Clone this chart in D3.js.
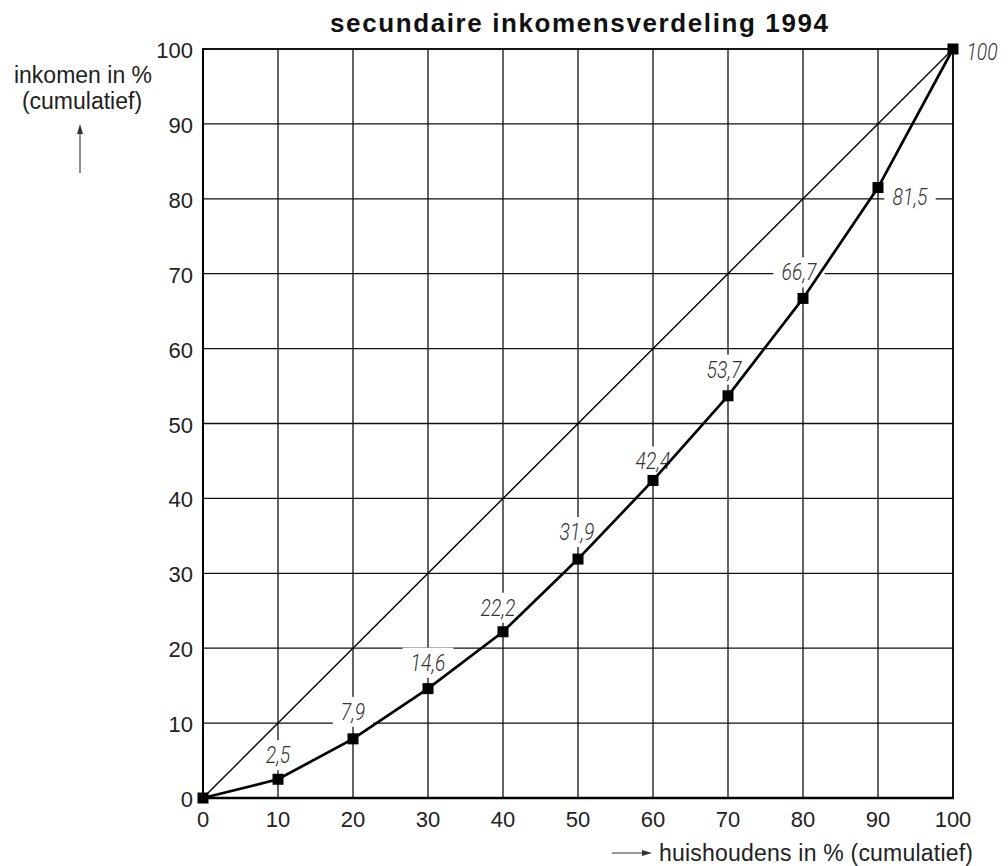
<!DOCTYPE html>
<html>
<head>
<meta charset="utf-8">
<script src="https://cdn.jsdelivr.net/npm/d3@7"></script>
<style>
  body { margin: 0; background: #fff; }
  text { font-family: "Liberation Sans", Arial, sans-serif; }
</style>
</head>
<body>
<div id="chart"></div>
<script>
// chart data
const households = [0, 10, 20, 30, 40, 50, 60, 70, 80, 90, 100]
const income = [0, 2.5, 7.9, 14.6, 22.2, 31.9, 42.4, 53.7, 66.7, 81.5, 100]
const valueLabels = ["", "2,5", "7,9", "14,6", "22,2", "31,9", "42,4", "53,7", "66,7", "81,5", "100"]
const equality = [0, 100]
const ticks = [0, 10, 20, 30, 40, 50, 60, 70, 80, 90, 100]
const title = "secundaire inkomensverdeling 1994"

const width = 1008
const height = 866
const plotLeft = 203, plotRight = 953, plotTop = 49, plotBottom = 798

const svg = d3.select('#chart').append('svg')
  .attr('width', width)
  .attr('height', height)

const xScale = d3.scaleLinear().domain([0, 100]).range([plotLeft, plotRight])
const yScale = d3.scaleLinear().domain([0, 100]).range([plotBottom, plotTop])

// grid
svg.append('g').selectAll('line').data(ticks).enter().append('line')
  .attr('x1', d => xScale(d)).attr('x2', d => xScale(d))
  .attr('y1', plotTop).attr('y2', plotBottom)
  .attr('stroke', '#111').attr('stroke-width', 1.3)
svg.append('g').selectAll('line').data(ticks).enter().append('line')
  .attr('x1', plotLeft).attr('x2', plotRight)
  .attr('y1', d => yScale(d)).attr('y2', d => yScale(d))
  .attr('stroke', '#111').attr('stroke-width', 1.3)

// frame: thicker left and bottom
svg.append('line').attr('x1', plotLeft).attr('x2', plotLeft).attr('y1', plotTop - 1).attr('y2', plotBottom + 1)
  .attr('stroke', '#000').attr('stroke-width', 2)
svg.append('line').attr('x1', plotLeft - 1).attr('x2', plotRight + 1).attr('y1', plotBottom).attr('y2', plotBottom)
  .attr('stroke', '#000').attr('stroke-width', 2.4)
svg.append('line').attr('x1', plotLeft).attr('x2', plotRight).attr('y1', plotTop).attr('y2', plotTop)
  .attr('stroke', '#000').attr('stroke-width', 1.6)
svg.append('line').attr('x1', plotRight).attr('x2', plotRight).attr('y1', plotTop).attr('y2', plotBottom)
  .attr('stroke', '#000').attr('stroke-width', 1.6)

// value labels with white boxes that cut the grid
const labelOffsets = [null, [0, -24], [0, -27], [0, -26], [-5, -24], [-1, -27], [0, -19], [-4, -26], [-4, -26], [32, 9], [29, 3]]
const labelG = svg.append('g')
households.forEach((h, i) => {
  if (!valueLabels[i]) return
  const off = labelOffsets[i]
  const cx = xScale(h) + off[0]
  const cy = yScale(income[i]) + off[1]
  const g = labelG.append('g')
  const t = g.append('text')
    .attr('transform', 'translate(' + cx + ',' + (cy + 8) + ') scale(0.84,1)')
    .attr('text-anchor', 'middle')
    .style('font-family', 'Roboto, "Liberation Sans Narrow", sans-serif')
    .style('font-style', 'italic')
    .style('font-weight', '300')
    .style('font-size', '23px')
    .attr('fill', '#333')
    .text(valueLabels[i])
  if (i < households.length - 1) {
    const w = t.node().getBBox().width * 0.84
    g.insert('rect', 'text')
      .attr('x', cx - w / 2 - 8).attr('y', cy - 15)
      .attr('width', w + 16).attr('height', 30)
      .attr('fill', '#fff')
  }
})

// equality diagonal
svg.append('line')
  .attr('x1', xScale(equality[0])).attr('y1', yScale(equality[0]))
  .attr('x2', xScale(equality[1])).attr('y2', yScale(equality[1]))
  .attr('stroke', '#000').attr('stroke-width', 1.4)

// lorenz curve
const line = d3.line()
  .x((d, i) => xScale(households[i]))
  .y(d => yScale(d))
svg.append('path').datum(income)
  .attr('d', line)
  .attr('fill', 'none')
  .attr('stroke', '#000')
  .attr('stroke-width', 2.7)

svg.append('g').selectAll('rect').data(income).enter().append('rect')
  .attr('x', (d, i) => xScale(households[i]) - 5.5)
  .attr('y', d => yScale(d) - 5.5)
  .attr('width', 11).attr('height', 11)
  .attr('fill', '#000')

// tick labels
svg.append('g').selectAll('text').data(ticks).enter().append('text')
  .attr('x', d => xScale(d)).attr('y', plotBottom + 29)
  .attr('text-anchor', 'middle')
  .style('font-size', '22px').attr('fill', '#222')
  .text(d => d)
svg.append('g').selectAll('text').data(ticks).enter().append('text')
  .attr('x', plotLeft - 10).attr('y', d => yScale(d) + 9)
  .attr('text-anchor', 'end')
  .style('font-size', '22px').attr('fill', '#222')
  .text(d => d)

// title
svg.append('text')
  .attr('x', 330).attr('y', 32)
  .attr('textLength', 498).attr('lengthAdjust', 'spacing')
  .style('font-size', '26px').style('font-weight', 'bold')
  .attr('fill', '#111')
  .text(title)

// y axis label
svg.append('text').attr('x', 83).attr('y', 83).attr('text-anchor', 'middle')
  .style('font-size', '23px').attr('fill', '#222').text('inkomen in %')
svg.append('text').attr('x', 82).attr('y', 109).attr('text-anchor', 'middle')
  .style('font-size', '23px').attr('fill', '#222').text('(cumulatief)')
svg.append('line').attr('x1', 80).attr('x2', 80).attr('y1', 173).attr('y2', 130)
  .attr('stroke', '#333').attr('stroke-width', 1.1)
svg.append('path').attr('d', 'M80,124 L77,134 L83,134 Z').attr('fill', '#333')

// x axis label
svg.append('line').attr('x1', 612).attr('x2', 645).attr('y1', 853).attr('y2', 853)
  .attr('stroke', '#333').attr('stroke-width', 1.1)
svg.append('path').attr('d', 'M652,853 L642,850 L642,856 Z').attr('fill', '#333')
svg.append('text').attr('x', 659).attr('y', 861)
  .attr('textLength', 314).attr('lengthAdjust', 'spacing')
  .style('font-size', '23px').attr('fill', '#222')
  .text('huishoudens in % (cumulatief)')
</script>
</body>
</html>
